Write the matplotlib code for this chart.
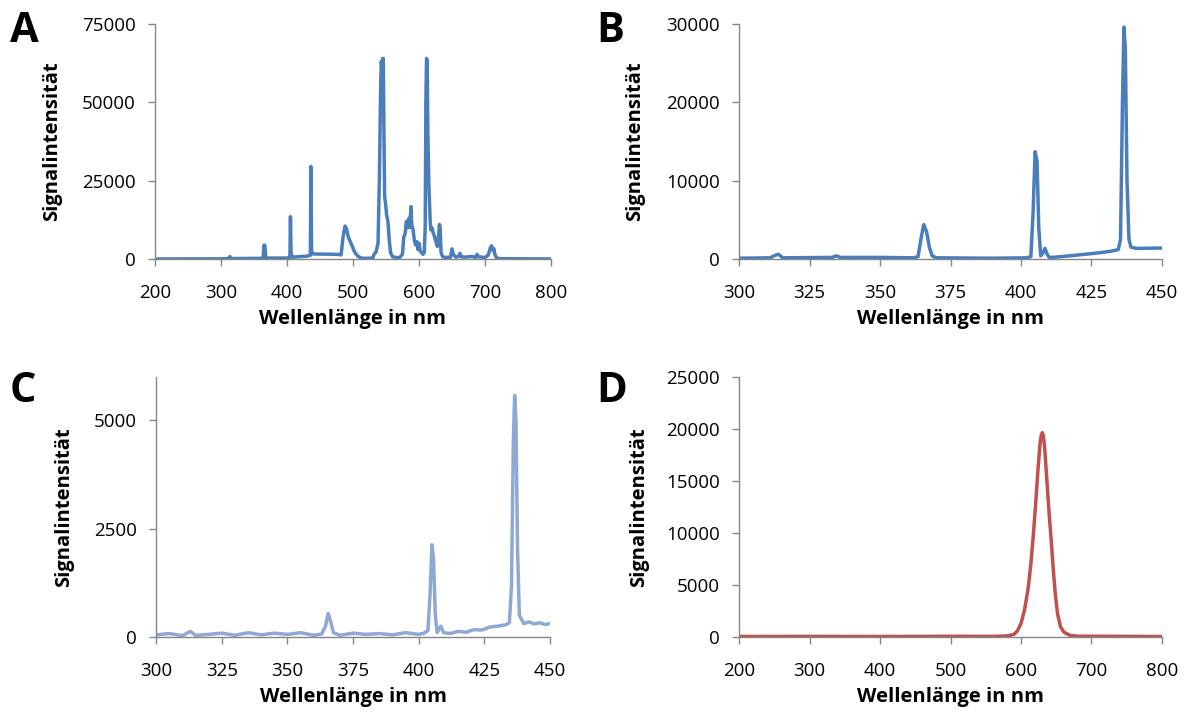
import matplotlib
matplotlib.use("Agg")
import matplotlib.pyplot as plt

"""
Emission spectra of four light sources (panels A-D)
"""

plt.rcParams['font.family'] = ['Open Sans', 'DejaVu Sans']

# panel A: broad spectrum 200-800 nm
A_WL = [200, 300, 310, 312, 313.5, 315, 320, 360, 364, 365, 366.5, 368, 400,
        404.5, 405.3, 406.3, 407, 408, 409, 410, 430, 435.5, 436.3, 437.3, 438,
        440, 470, 480, 482, 485, 488, 490, 493, 497, 500, 503, 507, 512, 520,
        530, 532, 535, 538, 540, 542, 543, 544, 545, 546, 547, 548, 549.5, 551,
        553, 555, 557, 560, 570, 575, 577, 579, 581, 583, 585, 586, 588, 589,
        591, 593, 595, 597, 598.5, 600, 602, 604, 606, 608, 609.5, 610.5, 611.5,
        612.5, 613.5, 615, 616, 617, 618, 619.5, 621, 623, 625, 626.5, 628, 630,
        631, 632, 633.5, 636, 640, 648, 650, 652, 656, 660, 662, 664, 670, 680,
        686, 688, 690, 700, 705, 708, 710, 712, 713.5, 715, 718, 725, 800]
A_INT = [0, 50, 100, 150, 800, 150, 150, 200, 300, 4400, 4400, 300, 300,
         500, 13500, 1200, 700, 1000, 700, 600, 900, 1200, 29500, 3000, 1800,
         1600, 1500, 1400, 1300, 7000, 10500, 9800, 7000, 5000, 3500, 2000, 1000, 300, 200,
         300, 1500, 2200, 5000, 25000, 55000, 63000, 61000, 64000, 64000, 40000, 20000, 17500, 14000,
         12000, 6000, 2000, 700, 300, 1500, 7000, 8000, 12000, 10000, 13000, 10000, 16700, 11000,
         9500, 6000, 4500, 5500, 3000, 5000, 2500, 2000, 1500, 2000, 10000, 50000, 64000,
         63000, 40000, 24000, 18000, 12000, 9300, 10000, 8800, 7500, 6000, 5000, 4000, 8000,
         11000, 10500, 2000, 700, 500, 600, 3200, 1500, 600, 800, 1800, 700, 600, 800,
         500, 1500, 700, 500, 1200, 3500, 4200, 2800, 3300, 1500, 200, 100, 0]

# panel B: 300-450 nm
B_WL = [300, 311, 313, 314, 315.5, 333, 334.5, 336, 350, 362, 363.5, 364.5, 365.5,
        366.5, 367.5, 368.5, 370, 390, 402, 403.5, 404.3, 405, 405.7, 406.3, 407,
        407.7, 408.5, 409.3, 410, 412, 420, 428, 432, 434.5, 435.3, 436, 436.5,
        437, 437.6, 438.3, 439, 441, 450]
B_INT = [100, 150, 500, 600, 150, 200, 400, 200, 200, 150, 300, 2500, 4400,
         3500, 1500, 400, 150, 100, 150, 300, 6000, 13700, 12500, 4000, 400,
         700, 1350, 600, 200, 230, 500, 800, 1000, 1200, 2500, 20000, 29600,
         27000, 10000, 2500, 1500, 1350, 1400]

# panel C: 300-450 nm, weaker signal
C_WL = [300, 305, 310, 313, 315, 320, 325, 330, 335, 340, 345, 350, 355, 360,
        363, 364.5, 365.5, 366.5, 367.5, 370, 375, 380, 385, 390, 395, 400, 402,
        403.5, 404.3, 405, 405.6, 406.3, 407, 408.4, 409.5, 412, 415, 418, 421,
        424, 427, 430, 433, 434.5, 435.3, 436, 436.5, 437, 437.6, 438.3, 440,
        442, 444, 446, 448, 450]
C_INT = [50, 80, 30, 130, 40, 60, 90, 40, 100, 50, 90, 60, 100, 40,
         70, 250, 545, 350, 100, 40, 90, 60, 80, 50, 100, 60, 90,
         150, 1000, 2130, 1800, 500, 100, 250, 100, 80, 130, 110, 170,
         160, 230, 250, 280, 330, 1200, 4500, 5575, 5000, 2000, 500, 310,
         350, 300, 330, 290, 310]

# panel D: red source 200-800 nm
D_WL = [200, 300, 400, 500, 560, 580, 590, 595, 600, 605, 610, 614, 617.5,
        621, 624, 627, 629, 630.3, 632, 634, 637, 640, 643, 646, 649, 652, 656,
        661, 670, 680, 800]
D_INT = [50, 60, 50, 70, 60, 100, 250, 600, 1300, 2600, 4600, 7000, 9800,
         13000, 16000, 18600, 19500, 19650, 19300, 17800, 14800, 11800, 9200, 6300, 3900, 2200, 1000,
         450, 150, 80, 50]

BLUE = '#4a7ebb'
LIGHT_BLUE = '#8ea9d4'
RED = '#c0504d'
GREY = '#868686'


def style_axis(ax, xlim, xticks, ylim, yticks, ylab_x):
    ax.set_xlim(xlim)
    ax.set_ylim(ylim)
    ax.set_xticks(xticks)
    ax.set_yticks(yticks)
    for side in ['top', 'right']:
        ax.spines[side].set_visible(False)
    for side in ['left', 'bottom']:
        ax.spines[side].set_color(GREY)
        ax.spines[side].set_linewidth(1.0)
    ax.tick_params(colors=GREY, labelcolor='black', length=5, width=1,
                   labelsize=13.5, direction='out')
    ax.tick_params(axis='y', pad=9)
    ax.tick_params(axis='x', pad=13)
    ax.set_xlabel('Wellenlänge in nm', fontsize=14.5, fontweight='bold', labelpad=5)
    ax.set_ylabel('Signalintensität', fontsize=14.5, fontweight='bold')
    ax.yaxis.set_label_coords(ylab_x, 0.5)


fig = plt.figure(figsize=(11.92, 7.18), dpi=100)

axA = fig.add_axes([0.130, 0.6393, 0.3322, 0.3273])
axB = fig.add_axes([0.620, 0.6393, 0.3548, 0.3273])
axC = fig.add_axes([0.131, 0.1128, 0.3305, 0.3621])
axD = fig.add_axes([0.620, 0.1128, 0.3548, 0.3621])

axA.plot(A_WL, A_INT, color=BLUE, lw=2.5)
axB.plot(B_WL, B_INT, color=BLUE, lw=2.5)
axC.plot(C_WL, C_INT, color=LIGHT_BLUE, lw=2.5)
axD.plot(D_WL, D_INT, color=RED, lw=2.5)

style_axis(axA, (200, 800), range(200, 801, 100), (0, 75000), range(0, 75001, 25000), -0.235)
style_axis(axB, (300, 450), range(300, 451, 25), (0, 30000), range(0, 30001, 10000), -0.222)
style_axis(axC, (300, 450), range(300, 451, 25), (0, 6000), range(0, 5001, 2500), -0.208)
style_axis(axD, (200, 800), range(200, 801, 100), (0, 25000), range(0, 25001, 5000), -0.213)

for x, y, letter in [(0.008, 0.985, 'A'), (0.500, 0.985, 'B'),
                     (0.008, 0.483, 'C'), (0.500, 0.483, 'D')]:
    fig.text(x, y, letter, fontsize=30, fontweight='bold', va='top', ha='left')

fig.savefig('out.png', dpi=100)
